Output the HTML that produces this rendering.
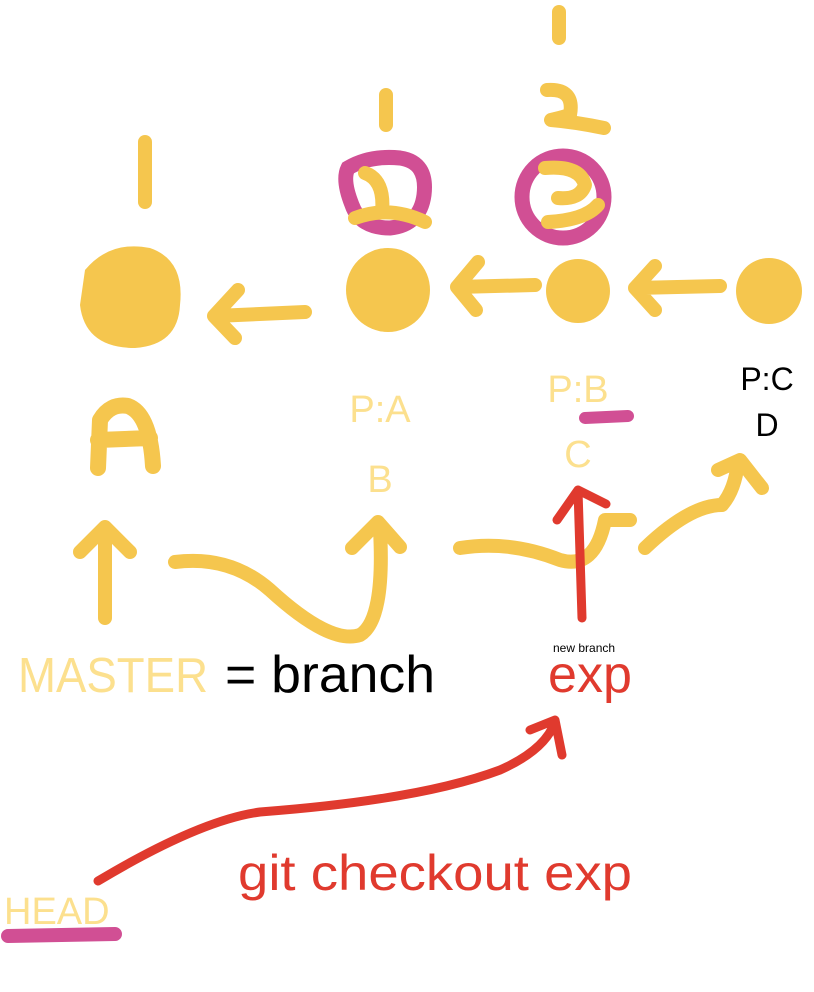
<!DOCTYPE html>
<html><head><style>
html,body{margin:0;padding:0;background:#fff;}
svg{display:block;}
text{font-family:"Liberation Sans",sans-serif;}
</style></head><body>
<svg width="814" height="992" viewBox="0 0 814 992">
<g stroke="#F5C64E" stroke-width="14" stroke-linecap="round" stroke-linejoin="round" fill="none">
  <line x1="145" y1="142" x2="145" y2="202"/>
  <line x1="386" y1="95" x2="386" y2="125"/>
  <line x1="559" y1="12" x2="559" y2="38"/>
  <path d="M547,90 Q575,88 570,115 Q560,118 551,120 Q575,122 604,128"/>
</g>
<g stroke="#D14F94" stroke-width="15" fill="none">
  <path d="M348,168 Q370,155 400,158 Q428,162 424,195 Q420,225 390,228 Q360,228 352,205 Q342,180 348,168Z"/>
  <circle cx="563" cy="197" r="41"/>
</g>
<path d="M585,418 L628,416" stroke="#D14F94" stroke-width="12" stroke-linecap="round"/>
<line x1="8" y1="936" x2="115" y2="934" stroke="#D14F94" stroke-width="14" stroke-linecap="round"/>
<g stroke="#F5C64E" stroke-width="14" stroke-linecap="round" stroke-linejoin="round" fill="none">
  <path d="M365,173 Q385,180 382,212 M355,218 Q390,205 425,222"/>
  <path d="M545,168 Q580,165 585,185 Q580,200 558,198 M548,222 Q585,220 598,205"/>
</g>
<g fill="#F5C64E">
  <path d="M85,270 Q110,240 150,248 Q185,260 180,305 Q178,345 135,348 Q85,348 80,305 Z"/>
  <circle cx="388" cy="290" r="42"/>
  <circle cx="578" cy="291" r="32"/>
  <circle cx="769" cy="291" r="33"/>
</g>
<g stroke="#F5C64E" stroke-width="14" stroke-linecap="round" stroke-linejoin="round" fill="none">
  <path d="M305,312 L215,316 M238,290 L214,316 L235,338"/>
  <path d="M535,285 L457,287 M478,262 L457,287 L476,310"/>
  <path d="M720,286 L635,288 M655,266 L635,288 L655,310"/>
  <path d="M98,468 L100,420 Q110,403 128,406 Q150,414 153,466 M98,440 L150,438" stroke-width="16"/>
  <path d="M105,618 L105,528 M80,552 L105,527 L130,552"/>
  <path d="M175,562 Q230,555 270,590 Q330,645 360,635 Q385,620 380,530 M352,548 L378,522 L400,547"/>
  <path d="M460,548 Q510,540 560,560 Q595,570 605,520 L630,520"/>
  <path d="M645,548 Q690,505 722,505 Q735,490 738,462 M718,470 L740,460 L762,488"/>
</g>
<g fill="#FCE08E" text-anchor="middle">
  <text x="380" y="422" font-size="38">P:A</text>
  <text x="380" y="492" font-size="38">B</text>
  <text x="578" y="402" font-size="38">P:B</text>
  <text x="578" y="467" font-size="38">C</text>
</g>
<g fill="#000" text-anchor="middle">
  <text x="767" y="390" font-size="32">P:C</text>
  <text x="767" y="436" font-size="32">D</text>
</g>
<text x="18" y="692" font-size="49" fill="#FCE08E" textLength="190" lengthAdjust="spacingAndGlyphs">MASTER</text>
<text x="225" y="692" font-size="52" fill="#000" textLength="210" lengthAdjust="spacingAndGlyphs">= branch</text>
<text x="553" y="652" font-size="12" fill="#000">new branch</text>
<text x="548" y="692" font-size="52" fill="#E03A2E" textLength="84" lengthAdjust="spacingAndGlyphs">exp</text>
<text x="238" y="890" font-size="50" fill="#E03A2E" textLength="394" lengthAdjust="spacingAndGlyphs">git checkout exp</text>
<text x="4" y="924" font-size="38" fill="#FCE08E">HEAD</text>
<g stroke="#E03A2E" stroke-width="9" stroke-linecap="round" stroke-linejoin="round" fill="none">
  <path d="M582,618 L578,490 M557,520 L578,490 L606,504"/>
  <path d="M98,881 Q200,820 260,812 Q420,800 500,770 Q545,750 555,722 M530,730 L555,720 L562,755"/>
</g>
</svg>
</body></html>
